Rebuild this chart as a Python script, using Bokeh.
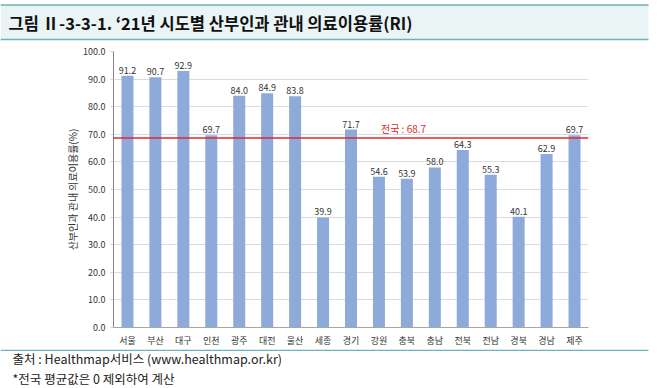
from bokeh.plotting import figure
from bokeh.layouts import column
from bokeh.models import (ColumnDataSource, Span, Label, LabelSet,
                          NumeralTickFormatter, FixedTicker, Range1d)
from bokeh.core.properties import value
from bokeh.embed import file_html
from bokeh.resources import INLINE

regions = ["서울", "부산", "대구", "인천", "광주", "대전", "울산", "세종", "경기",
           "강원", "충북", "충남", "전북", "전남", "경북", "경남", "제주"]
values = [91.2, 90.7, 92.9, 69.7, 84.0, 84.9, 83.8, 39.9, 71.7,
          54.6, 53.9, 58.0, 64.3, 55.3, 40.1, 62.9, 69.7]
national = 68.7
y_ticks = [0, 10, 20, 30, 40, 50, 60, 70, 80, 90, 100]

title_text = "그림  Ⅱ-3-3-1. ‘21년 시도별 산부인과 관내 의료이용률(RI)"
source_text = "출처 : Healthmap서비스 (www.healthmap.or.kr)"
note_text = "*전국 평균값은 0 제외하여 계산"
y_label = "산부인과 관내 의료이용률(%)"
nat_label = "전국 : 68.7"

FONT = "Noto Sans CJK KR"
TEAL = "#6db2b8"
W = 658


def blank(h):
    f = figure(width=W, height=h, x_range=Range1d(0, W), y_range=Range1d(h, 0),
               output_backend="svg", toolbar_location=None, min_border=0,
               frame_align=False)
    f.axis.visible = False
    f.grid.visible = False
    f.outline_line_color = None
    return f


# ---- title bar ----
t = blank(41)
t.quad(left=[0], right=[648], top=[4], bottom=[39], fill_color="#eaf4f5",
       line_color=None)
t.segment(x0=[0, 0], y0=[4.5, 39], x1=[648, 648], y1=[4.5, 39],
          line_color=TEAL, line_width=1.5)
t.text(x=[8], y=[22], text=[title_text], text_baseline="middle",
       text_font=value(FONT), text_font_size="16.5px", text_font_style="bold",
       text_color="#111111")

# ---- main chart ----
src = ColumnDataSource(dict(region=regions, value=values,
                            label=[f"{v:.1f}" for v in values]))

p = figure(x_range=regions, y_range=Range1d(0, 100), width=W, height=308,
           output_backend="svg", toolbar_location=None, frame_align=False,
           min_border_left=113, min_border_right=70, min_border_top=10,
           min_border_bottom=20)
p.outline_line_color = None

p.vbar(x="region", top="value", width=0.43, source=src,
       fill_color="#8eaadb", line_color=None)

p.add_layout(LabelSet(x="region", y="value", text="label", source=src,
                      y_offset=2, text_align="center", text_baseline="bottom",
                      text_font=value(FONT), text_font_size=value("9px"),
                      text_color=value("#333333")))

p.add_layout(Span(location=national, dimension="width", line_color="#e3262a",
                  line_width=1.5))
p.add_layout(Label(x=10.38, y=national, y_offset=2, text=nat_label,
                   text_align="center", text_baseline="bottom",
                   text_font=FONT, text_font_size="10px", text_color="#e3262a"))

p.yaxis.ticker = FixedTicker(ticks=y_ticks)
p.yaxis.formatter = NumeralTickFormatter(format="0.0")
p.yaxis.major_label_text_font = FONT
p.yaxis.major_label_text_font_size = "9px"
p.yaxis.major_label_text_color = "#333333"
p.yaxis.axis_line_color = "#8a7f7f"
p.yaxis.major_tick_line_color = "#d0d0d0"
p.yaxis.major_tick_in = 0
p.yaxis.major_tick_out = 3
p.yaxis.major_label_standoff = 5
p.yaxis.minor_tick_line_color = None
p.yaxis.axis_label = y_label
p.yaxis.axis_label_text_font = FONT
p.yaxis.axis_label_text_font_size = "10px"
p.yaxis.axis_label_text_font_style = "normal"
p.yaxis.axis_label_text_color = "#333333"
p.yaxis.axis_label_standoff = 0

p.xaxis.major_label_text_font = FONT
p.xaxis.major_label_text_font_size = "9px"
p.xaxis.major_label_text_color = "#333333"
p.xaxis.axis_line_color = "#a6a6a6"
p.xaxis.major_tick_line_color = None
p.xaxis.minor_tick_line_color = None
p.xaxis.major_label_standoff = 0

p.xgrid.grid_line_color = None
p.ygrid.grid_line_color = "#dcdcdc"

# ---- footer ----
f = blank(39)
f.segment(x0=[0], y0=[0.75], x1=[648], y1=[0.75], line_color=TEAL, line_width=1.5)
f.text(x=[12, 12], y=[8.5, 29], text=[source_text, note_text], text_baseline="middle",
       text_font=value(FONT), text_font_size="12.5px", text_color="#222222")

layout = column(t, p, f, spacing=0)
open("out.html", "w").write(file_html(layout, INLINE))
